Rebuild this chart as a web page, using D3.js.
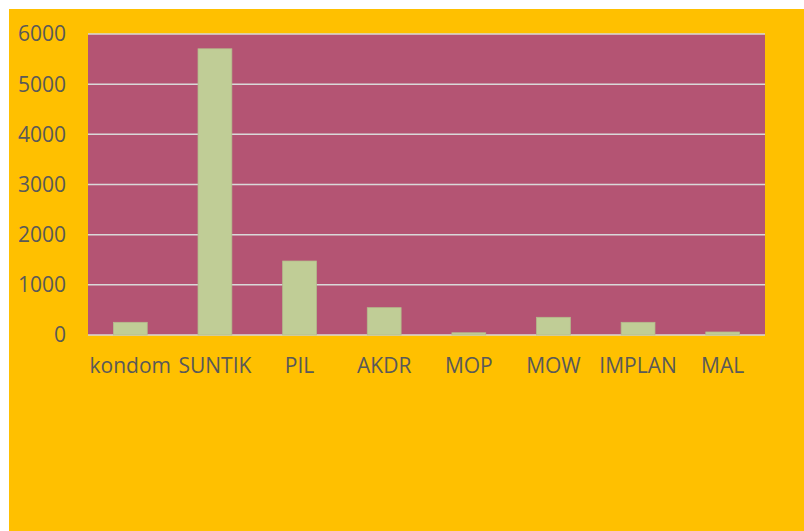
<!DOCTYPE html>
<html>
<head>
<meta charset="utf-8">
<script src="https://cdn.jsdelivr.net/npm/d3@7"></script>
<style>
  body { margin: 0; background: #fff; }
  text { font-family: "Open Sans", sans-serif; fill: #595959; }
</style>
</head>
<body>
<div id="chart"></div>
<script>
// data
var categories = ["kondom", "SUNTIK", "PIL", "AKDR", "MOP", "MOW", "IMPLAN", "MAL"];
var values = [253, 5705, 1475, 545, 45, 353, 253, 60];
var yTicks = [0, 1000, 2000, 3000, 4000, 5000, 6000];

var W = 804, H = 531;
var plot = {left: 88, top: 34, right: 765, bottom: 335};

var svg = d3.select("#chart").append("svg")
    .attr("width", W)
    .attr("height", H);

// orange chart area
svg.append("rect")
    .attr("x", 9).attr("y", 9)
    .attr("width", W - 9).attr("height", H - 9)
    .style("fill", "#FFC000");

// plot area
svg.append("rect")
    .attr("x", plot.left).attr("y", plot.top)
    .attr("width", plot.right - plot.left).attr("height", plot.bottom - plot.top)
    .style("fill", "#B45473");

var x = d3.scaleBand()
    .domain(categories)
    .range([plot.left, plot.right])
    .paddingInner(0.6)
    .paddingOuter(0.3);

var y = d3.scaleLinear()
    .domain([0, 6000])
    .range([plot.bottom, plot.top]);

// gridlines
svg.append("g").selectAll("line")
    .data(yTicks)
  .enter().append("line")
    .attr("x1", plot.left).attr("x2", plot.right)
    .attr("y1", function(d) { return y(d); })
    .attr("y2", function(d) { return y(d); })
    .style("stroke", "#D9D9D9")
    .style("stroke-width", 1.5);

// bars
svg.append("g").selectAll("rect")
    .data(values)
  .enter().append("rect")
    .attr("x", function(d, i) { return x(categories[i]); })
    .attr("y", function(d) { return y(d); })
    .attr("width", x.bandwidth())
    .attr("height", function(d) { return y(0) - y(d); })
    .style("fill", "#C0CD96")
    .style("stroke", "#B3BC8C")
    .style("stroke-width", 0.75);

// y axis labels
svg.append("g").selectAll("text")
    .data(yTicks)
  .enter().append("text")
    .attr("x", 66)
    .attr("y", function(d) { return y(d); })
    .attr("dy", "0.35em")
    .attr("text-anchor", "end")
    .style("font-size", "21px")
    .text(function(d) { return d; });

// x axis labels
svg.append("g").selectAll("text")
    .data(categories)
  .enter().append("text")
    .attr("x", function(d) { return x(d) + x.bandwidth() / 2; })
    .attr("y", 366)
    .attr("dy", "0.35em")
    .attr("text-anchor", "middle")
    .style("font-size", "21px")
    .text(function(d) { return d; });
</script>
</body>
</html>
